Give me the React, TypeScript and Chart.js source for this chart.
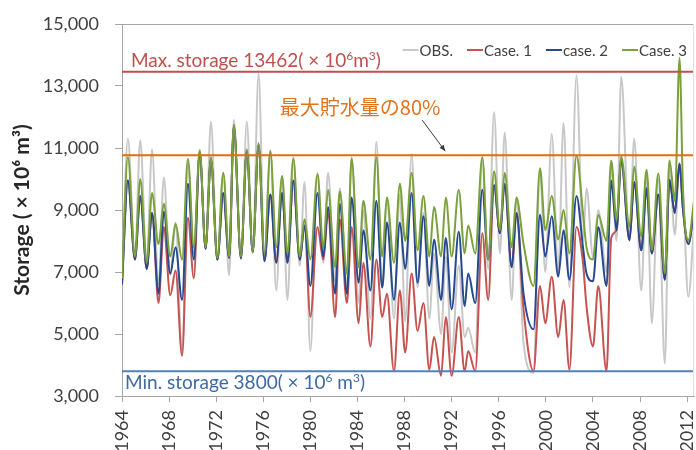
import React, { useEffect, useRef } from 'react';
import { Chart, registerables } from 'chart.js';

Chart.register(...registerables);

// ---- data ----
const TIME = [
  1964.0, 1964.5, 1965.1, 1965.55, 1966.1, 1966.55, 1967.1, 1967.55, 1968.1, 1968.55,
  1969.1, 1969.6, 1970.1, 1970.6, 1971.1, 1971.55, 1972.1, 1972.6, 1973.1, 1973.5,
  1974.1, 1974.6, 1975.1, 1975.6, 1976.1, 1976.6, 1977.1, 1977.6, 1978.05, 1978.55,
  1979.1, 1979.5, 1980.0, 1980.6, 1981.1, 1981.5, 1982.1, 1982.5, 1983.1, 1983.5,
  1984.1, 1984.5, 1985.1, 1985.6, 1986.1, 1986.5, 1987.1, 1987.6, 1988.05, 1988.6,
  1989.1, 1989.6, 1990.1, 1990.5, 1991.1, 1991.5, 1992.0, 1992.6, 1993.1, 1993.4,
  1994.0, 1994.6, 1995.1, 1995.6, 1996.1, 1996.5, 1997.1, 1997.5, 1998.1, 1998.95,
  1999.5, 1999.95, 2000.5, 2001.05, 2001.5, 2002.0, 2002.6, 2003.15, 2003.45, 2004.0,
  2004.45, 2005.15, 2005.55, 2006.0, 2006.4, 2007.1, 2007.5, 2008.1, 2008.55, 2009.0,
  2009.55, 2010.1, 2010.5, 2010.95, 2011.35, 2011.65, 2012.1, 2012.58,
];

const OBS = [
  6700, 11300, 7500, 11250, 7300, 10950, 6600, 10050, 6900, 8600,
  4400, 10500, 7600, 10950, 7800, 11850, 7400, 10200, 6900, 11900,
  7400, 11850, 7600, 13400, 7400, 10900, 6400, 10100, 6100, 10700,
  7200, 9900, 4450, 10200, 7300, 10200, 6700, 9700, 6500, 10700,
  6000, 9000, 5500, 11200, 6500, 9400, 5500, 9500, 5400, 10800,
  6500, 8900, 5500, 7600, 5000, 7500, 4400, 7200, 4900, 5200,
  4400, 10700, 7100, 12150, 7600, 11500, 6100, 9400, 4700, 3750,
  10300, 7000, 11450, 7000, 11800, 6500, 13350, 8000, 9700, 7500,
  9000, 7000, 10400, 8000, 13300, 8000, 11300, 6400, 10000, 5350,
  10000, 4050, 10300, 8200, 10500, 9500, 6200, 8500,
];

const CASE1 = [
  6600, 9950, 7400, 9450, 7100, 8900, 6000, 8450, 6250, 7050,
  4300, 8750, 6800, 10850, 7750, 10650, 7400, 9550, 7450, 11700,
  7450, 10900, 7650, 11100, 7350, 9500, 7300, 9550, 7300, 9950,
  7400, 8500, 5550, 8450, 7400, 8900, 5550, 8700, 6000, 8450,
  5350, 7300, 4600, 7400, 5550, 6300, 3800, 6400, 4400, 6950,
  5100, 6000, 3850, 4900, 3650, 5550, 3650, 5550, 3800, 4450,
  3800, 8250, 6100, 9800, 8250, 9850, 7150, 8900, 5800, 3800,
  6550, 5350, 6850, 4900, 6100, 3850, 8450, 7300, 5900, 4600,
  6550, 3800, 8100, 8350, 10600, 8030, 9900, 7700, 9700, 7600,
  9500, 6750, 9970, 8900, 10500, 9000, 7900, 9000,
];

const CASE2 = [
  6600, 9950, 7400, 9450, 7100, 8900, 6300, 8950, 6950, 7800,
  6100, 9850, 7400, 10850, 7750, 10650, 7400, 9550, 7450, 11700,
  7450, 10900, 7650, 11100, 7350, 9500, 7300, 9550, 7300, 9950,
  7400, 8500, 6550, 9550, 7500, 9100, 6300, 9200, 6300, 9400,
  6650, 8350, 6400, 9300, 6500, 8600, 6100, 8600, 7100, 9550,
  6650, 8800, 6550, 8050, 6100, 8100, 5800, 8300, 5900, 6950,
  6000, 9650, 7400, 9800, 8250, 9850, 7150, 8900, 6300, 5150,
  8850, 7500, 8800, 6850, 8350, 6750, 9450, 7800, 6950, 6700,
  8450, 6550, 9950, 8350, 10600, 8030, 9900, 7700, 9700, 7600,
  9500, 6750, 9970, 8900, 10500, 9000, 7900, 9000,
];

const CASE3 = [
  6800, 10700, 7500, 10000, 7300, 9550, 7900, 9200, 7500, 8550,
  7400, 10650, 7800, 10900, 7800, 10700, 7450, 10200, 7500, 11750,
  7500, 10950, 7650, 11150, 7600, 10900, 7800, 10100, 7600, 10650,
  7500, 8700, 7400, 10150, 7800, 9650, 7150, 9600, 6950, 10650,
  7150, 9300, 7400, 10700, 7500, 9400, 7300, 9850, 8000, 10200,
  7700, 9450, 7500, 9100, 7500, 9400, 7500, 9650, 7600, 8500,
  7600, 10700, 7400, 10250, 8350, 10200, 7800, 9400, 7900, 6550,
  10350, 8350, 9450, 8050, 9000, 7600, 10750, 8900, 7800, 7400,
  8850, 8000, 10600, 8680, 10720, 8460, 10400, 8140, 10300, 7700,
  10180, 6960, 10600, 9300, 13900, 9600, 8030, 9300,
];

const SERIES_LABELS = ['OBS.', 'Case. 1', 'case. 2', 'Case. 3'];
const SERIES_VALUES = [OBS, CASE1, CASE2, CASE3];
const SERIES_COLORS = ['#c8c8c8', '#c55350', '#26498f', '#7aa13a'];

const X_MIN = 1964;
const X_MAX = 2012.58;
const X_STEP = 4;
const Y_MIN = 3000;
const Y_MAX = 15000;
const Y_STEP = 2000;

const MAX_STORAGE = 13462;
const MIN_STORAGE = 3800;
const SHARE_80 = 0.8;
const LABEL_80 = '最大貯水量の80%';
const Y_TITLE = 'Storage ( × 10⁶ m³)';

const FONT = 'Lato, "Open Sans", "Noto Sans", sans-serif';
const CJK_FONT = '"Noto Sans CJK JP", "Noto Sans CJK SC", sans-serif';

type Part = [string, boolean];

function drawRich(ctx: CanvasRenderingContext2D, x: number, y: number, parts: Part[], size: number, color: string) {
  let cx = x;
  ctx.fillStyle = color;
  ctx.textAlign = 'left';
  ctx.textBaseline = 'alphabetic';
  for (const [t, sup] of parts) {
    const fs = sup ? Math.round(size * 0.62) : size;
    ctx.font = `${fs}px ${FONT}`;
    ctx.fillText(t, cx, sup ? y - size * 0.36 : y);
    cx += ctx.measureText(t).width;
  }
}

const notesPlugin = {
  id: 'storageNotes',
  afterDatasetsDraw(chart: any) {
    const { ctx, chartArea: ca, scales } = chart;
    const x = scales.x;
    const y = scales.y;
    ctx.save();

    // plot frame (top & right)
    ctx.strokeStyle = '#a6a6a6';
    ctx.lineWidth = 1;
    ctx.beginPath();
    ctx.moveTo(ca.left, Math.round(ca.top) + 0.5);
    ctx.lineTo(ca.right, Math.round(ca.top) + 0.5);
    ctx.stroke();
    ctx.strokeStyle = '#e2e2e2';
    ctx.beginPath();
    ctx.moveTo(Math.round(ca.right) - 0.5, ca.top);
    ctx.lineTo(Math.round(ca.right) - 0.5, ca.bottom);
    ctx.stroke();

    // Max storage label
    const yMax = y.getPixelForValue(MAX_STORAGE);
    drawRich(ctx, ca.left + 9, yMax - 5, [
      [`Max. storage ${MAX_STORAGE}( × 10`, false], ['6', true], ['m', false], ['3', true], [')', false],
    ], 19, '#c0504d');

    // Min storage label
    const yMin = y.getPixelForValue(MIN_STORAGE);
    drawRich(ctx, ca.left + 3, yMin + 18, [
      [`Min. storage ${MIN_STORAGE}( × 10`, false], ['6', true], [' m', false], ['3', true], [')', false],
    ], 19, '#3d6aa6');

    // 80% label + arrow
    const y80 = y.getPixelForValue(MAX_STORAGE * SHARE_80);
    ctx.font = `20px ${CJK_FONT}`;
    ctx.fillStyle = '#e3731c';
    ctx.textAlign = 'left';
    ctx.textBaseline = 'alphabetic';
    ctx.fillText(LABEL_80, x.getPixelForValue(1977.4), y80 - 40);

    const ax0 = x.getPixelForValue(1989.5);
    const ay0 = y80 - 35;
    const ax1 = x.getPixelForValue(1991.45);
    const ay1 = y80 - 4;
    ctx.strokeStyle = '#3a3a3a';
    ctx.lineWidth = 1;
    ctx.beginPath();
    ctx.moveTo(ax0, ay0);
    ctx.lineTo(ax1, ay1);
    ctx.stroke();
    const ang = Math.atan2(ay1 - ay0, ax1 - ax0);
    ctx.fillStyle = '#3a3a3a';
    ctx.beginPath();
    ctx.moveTo(ax1, ay1);
    ctx.lineTo(ax1 - 6 * Math.cos(ang) + 2.5 * Math.sin(ang), ay1 - 6 * Math.sin(ang) - 2.5 * Math.cos(ang));
    ctx.lineTo(ax1 - 6 * Math.cos(ang) - 2.5 * Math.sin(ang), ay1 - 6 * Math.sin(ang) + 2.5 * Math.cos(ang));
    ctx.closePath();
    ctx.fill();

    // legend (inside plot, top right)
    ctx.font = `15px ${FONT}`;
    ctx.textBaseline = 'middle';
    const lineLen = 17;
    const gap = 14;
    const widths = SERIES_LABELS.map((l) => lineLen + ctx.measureText(l).width);
    const total = widths.reduce((a, b) => a + b, 0) + gap * (SERIES_LABELS.length - 1);
    let lx = ca.right - 7 - total;
    const ly = ca.top + 26;
    SERIES_LABELS.forEach((l, i) => {
      ctx.strokeStyle = SERIES_COLORS[i];
      ctx.lineWidth = 2;
      ctx.beginPath();
      ctx.moveTo(lx, ly);
      ctx.lineTo(lx + lineLen - 1, ly);
      ctx.stroke();
      ctx.fillStyle = '#404040';
      ctx.fillText(l, lx + lineLen, ly + 1);
      lx += widths[i] + gap;
    });

    ctx.restore();
  },
};

export default function App() {
  const ref = useRef<HTMLCanvasElement | null>(null);

  useEffect(() => {
    if (!ref.current) return;
    Chart.defaults.font.family = FONT;

    const seriesSets = SERIES_VALUES.map((vals, i) => ({
      label: SERIES_LABELS[i],
      data: TIME.map((t, k) => ({ x: t, y: vals[k] })),
      borderColor: SERIES_COLORS[i],
      backgroundColor: SERIES_COLORS[i],
      borderWidth: 2,
      pointRadius: 0,
      cubicInterpolationMode: 'monotone' as const,
      order: 4 - i,
    }));

    const refLine = (label: string, value: number, color: string) => ({
      label,
      data: [
        { x: X_MIN, y: value },
        { x: X_MAX, y: value },
      ],
      borderColor: color,
      backgroundColor: color,
      borderWidth: 2,
      pointRadius: 0,
      order: 0,
    });

    const chart = new Chart(ref.current, {
      type: 'line',
      data: {
        datasets: [
          ...seriesSets,
          refLine('max', MAX_STORAGE, '#c0504d'),
          refLine('80%', MAX_STORAGE * SHARE_80, '#e46c0a'),
          refLine('min', MIN_STORAGE, '#4f81bd'),
        ],
      },
      options: {
        animation: false,
        responsive: false,
        maintainAspectRatio: false,
        layout: { padding: { top: 24, right: 2, left: 0, bottom: 0 } },
        plugins: {
          legend: { display: false },
          tooltip: { enabled: false },
        },
        scales: {
          x: {
            type: 'linear',
            min: X_MIN,
            max: X_MAX,
            afterFit: (s: any) => {
              s.height = 54;
              s.paddingLeft = 0;
              s.paddingRight = 0;
            },
            grid: { drawOnChartArea: false, drawTicks: true, tickLength: 6, color: '#a6a6a6' },
            border: { display: true, color: '#a6a6a6', width: 1 },
            ticks: {
              stepSize: X_STEP,
              includeBounds: false,
              autoSkip: false,
              minRotation: 90,
              maxRotation: 90,
              padding: 8,
              color: '#404040',
              font: { size: 18, family: FONT },
              callback: (v: any) => String(v),
            },
          },
          y: {
            min: Y_MIN,
            max: Y_MAX,
            afterFit: (s: any) => {
              s.width = 122;
              s.paddingTop = 0;
              s.paddingBottom = 0;
            },
            grid: { drawOnChartArea: false, drawTicks: true, tickLength: 7, color: '#a6a6a6' },
            border: { display: true, color: '#a6a6a6', width: 1 },
            ticks: {
              stepSize: Y_STEP,
              padding: 16,
              color: '#404040',
              font: { size: 18, family: FONT },
              callback: (v: any) => Number(v).toLocaleString('en-US'),
            },
            title: {
              display: true,
              text: Y_TITLE,
              color: '#262626',
              font: { size: 21, weight: 'bold', family: FONT },
              padding: { top: 10, bottom: 0 },
            },
          },
        },
      },
      plugins: [notesPlugin],
    });

    return () => chart.destroy();
  }, []);

  return (
    <div style={{ position: 'absolute', left: 0, top: 0, width: 696, height: 450, background: '#fff' }}>
      <canvas ref={ref} width={696} height={450} />
    </div>
  );
}
